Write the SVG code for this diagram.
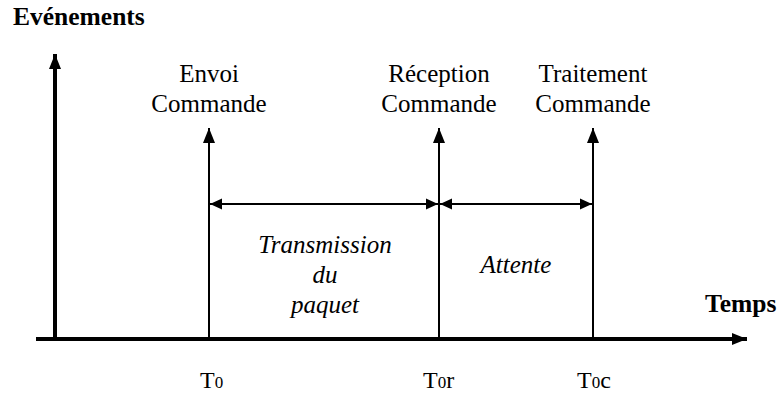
<svg xmlns="http://www.w3.org/2000/svg" width="778" height="396" viewBox="0 0 778 396">
<style>
text{font-family:"Liberation Serif","Times New Roman",serif;fill:#000}
.lbl{font-size:25px;text-anchor:middle}
.bold{font-size:25.5px;font-weight:bold}
.it{font-size:25px;font-style:italic;text-anchor:middle}
.tk{font-size:24px}
.axis{stroke:#000;stroke-width:4;fill:none}
.thin{stroke:#000;stroke-width:2;fill:none}
</style>
<defs>
<marker id="ah" markerUnits="userSpaceOnUse" markerWidth="16" markerHeight="14" refX="15" refY="7" orient="auto" viewBox="0 0 16 14">
<path d="M0,1 L15,7 L0,13 Z" fill="#000"/>
</marker>
<marker id="ahs" markerUnits="userSpaceOnUse" markerWidth="13" markerHeight="12" refX="12" refY="6" orient="auto-start-reverse" viewBox="0 0 13 12">
<path d="M0,0.5 L12,6 L0,11.5 Z" fill="#000"/>
</marker>
</defs>
<g id="connectors">
<line class="axis" x1="55" y1="339" x2="55" y2="54" marker-end="url(#ah)"/>
<line class="axis" x1="36" y1="339" x2="747" y2="339" marker-end="url(#ah)"/>
<line class="thin" x1="209" y1="339" x2="209" y2="128" marker-end="url(#ah)"/>
<line class="thin" x1="439" y1="339" x2="439" y2="128" marker-end="url(#ah)"/>
<line class="thin" x1="593" y1="339" x2="593" y2="128" marker-end="url(#ah)"/>
<line class="thin" x1="210" y1="204" x2="438" y2="204" marker-start="url(#ahs)" marker-end="url(#ahs)"/>
<line class="thin" x1="440" y1="204" x2="592" y2="204" marker-start="url(#ahs)" marker-end="url(#ahs)"/>
</g>
<g id="axis-labels">
<text class="bold" x="13" y="25">Evénements</text>
<text class="bold" x="705" y="312">Temps</text>
</g>
<g id="event-envoi">
<text class="lbl" x="209" y="82">Envoi</text>
<text class="lbl" x="209" y="112">Commande</text>
</g>
<g id="event-reception">
<text class="lbl" x="439" y="82">Réception</text>
<text class="lbl" x="439" y="112">Commande</text>
</g>
<g id="event-traitement">
<text class="lbl" x="593" y="82">Traitement</text>
<text class="lbl" x="593" y="112">Commande</text>
</g>
<g id="interval-transmission">
<text class="it" x="325" y="253">Transmission</text>
<text class="it" x="325" y="283">du</text>
<text class="it" x="325" y="313">paquet</text>
</g>
<g id="interval-attente">
<text class="it" x="516" y="273">Attente</text>
</g>
<g id="ticks">
<text class="tk" x="200" y="388">T<tspan font-size="17">0</tspan></text>
<text class="tk" x="423" y="388">T<tspan font-size="17">0</tspan>r</text>
<text class="tk" x="577" y="388">T<tspan font-size="17">0</tspan>c</text>
</g>
</svg>
